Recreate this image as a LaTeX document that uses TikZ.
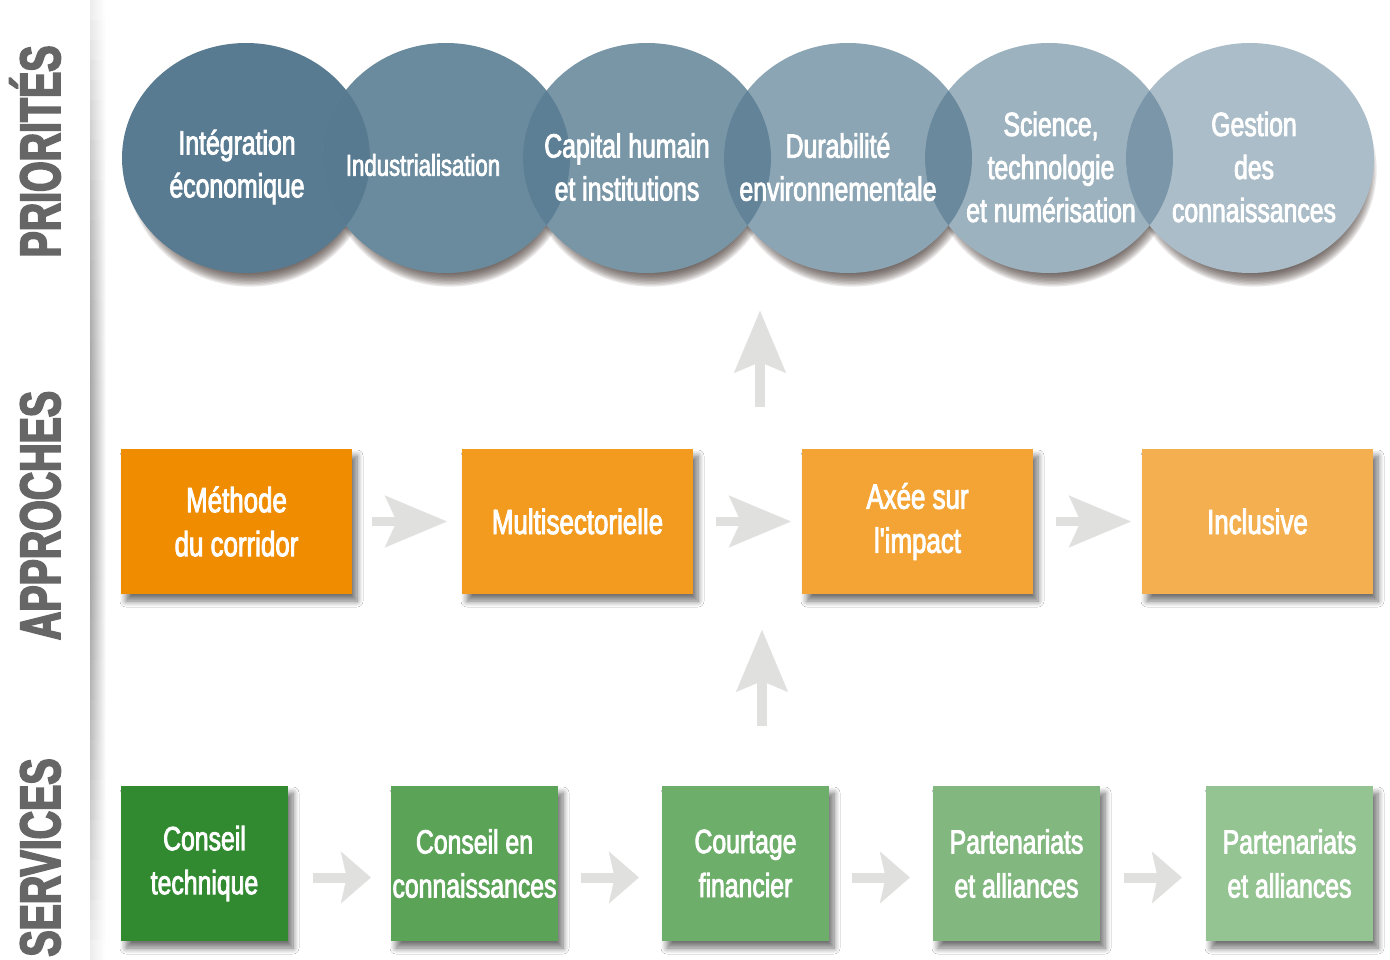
\documentclass[tikz,border=0pt]{standalone}
\usepackage{fontspec}
\newfontfamily\txtfont[FakeStretch=0.74, FakeBold=2.5]{Liberation Sans}
\newfontfamily\lblfont[FakeStretch=0.69, FakeBold=3]{Liberation Sans Bold}
\usetikzlibrary{shapes.geometric,arrows.meta,shadows.blur}
\definecolor{c1}{HTML}{587B91}
\definecolor{c2}{HTML}{6A8B9D}
\definecolor{c3}{HTML}{7996A7}
\definecolor{c4}{HTML}{8BA5B4}
\definecolor{c5}{HTML}{9DB2BF}
\definecolor{c6}{HTML}{ABBDC8}
\definecolor{l1}{HTML}{587A90}
\definecolor{l2}{HTML}{5D7F95}
\definecolor{l3}{HTML}{628398}
\definecolor{l4}{HTML}{6A899D}
\definecolor{l5}{HTML}{7B96A8}
\definecolor{o1}{HTML}{EF8C00}
\definecolor{o2}{HTML}{F29B1F}
\definecolor{o3}{HTML}{F4A435}
\definecolor{o4}{HTML}{F4B050}
\definecolor{g1}{HTML}{318A30}
\definecolor{g2}{HTML}{5BA357}
\definecolor{g3}{HTML}{6DAE6A}
\definecolor{g4}{HTML}{82B87F}
\definecolor{g5}{HTML}{95C493}
\definecolor{arrowgray}{HTML}{E0E0DF}
\definecolor{lblgray}{HTML}{666666}
\definecolor{shadowbrown}{HTML}{3E302B}
\begin{document}
\begin{tikzpicture}[x=1pt,y=-1pt,
  circ/.style={ellipse, minimum width=248pt, minimum height=230pt, inner sep=0pt},
  ctext/.style={text=white, align=center, inner sep=0pt, font=\txtfont\fontsize{33.5}{43}\selectfont},
  abox/.style={rectangle, minimum width=231pt, minimum height=145pt, inner sep=0pt, text=white, align=center, font=\txtfont\fontsize{35}{44}\selectfont},
  sbox/.style={rectangle, minimum width=167pt, minimum height=155pt, inner sep=0pt, text=white, align=center, font=\txtfont\fontsize{33.5}{44}\selectfont},
  boxshadow/.style={blur shadow={shadow xshift=5pt, shadow yshift=-7pt, shadow blur radius=6pt, shadow blur steps=8, shadow opacity=55}},
  lbl/.style={rotate=90, anchor=base, text=lblgray, inner sep=0pt, font=\lblfont\fontsize{57}{60}\selectfont},
  harrowA/.style={draw=arrowgray, line width=9pt, -{Stealth[length=62pt, width=52pt, inset=12pt, line width=0.1pt, fill=arrowgray]}},
  varrow/.style={draw=arrowgray, line width=10pt, -{Stealth[length=62pt, width=52pt, inset=11pt, line width=0.1pt, fill=arrowgray]}},
  harrowS/.style={draw=arrowgray, line width=10pt, -{Stealth[length=30pt, width=52pt, inset=6pt, line width=0.1pt, fill=arrowgray]}}
]
\useasboundingbox (0,0) rectangle (1390,959);
\fill[white] (0,0) rectangle (1390,959);
% left shaded bar, darker in the middle
\foreach \k in {0,...,47}{
  \pgfmathsetmacro\barv{6+30*sin(180*(\k+0.5)/48)}
  \shade[left color=black!\barv, right color=white, draw=none] (90,{20*\k}) rectangle (106,{20*\k+20.5});
}

% side labels
\node[lbl] (lp) at (60,151.5) {PRIORITÉS};
\node[lbl] (la) at (60,515.5) {APPROCHES};
\node[lbl] (ls) at (60,857.5) {SERVICES};

% priority circles: centres, shadows, discs, overlaps, texts
\foreach \i/\x in {1/246,2/446,3/647,4/848,5/1049,6/1250}
  \coordinate (pc\i) at (\x,158);
\foreach \i in {1,...,6}
  \foreach \k in {0,...,9}
    \fill[shadowbrown, opacity=0.11] ([xshift=4pt,yshift=-12pt]pc\i) ellipse [x radius={110+1.4*\k}, y radius={104+1.4*\k}];
\foreach \i in {1,...,6}
  \node[circ, fill=c\i] (p\i) at (pc\i) {};
\foreach \i/\j in {1/2,2/3,3/4,4/5,5/6}{
  \begin{scope}
    \clip (p\i.center) ellipse [x radius=124, y radius=115];
    \fill[l\i] (p\j.center) ellipse [x radius=124, y radius=115];
  \end{scope}
}
\node[ctext] (t1) at (237,167) {Intégration\\économique};
\node[ctext, font=\txtfont\fontsize{30}{43}\selectfont] (t2) at (423,165) {Industrialisation};
\node[ctext] (t3) at (627,167) {Capital humain\\et institutions};
\node[ctext] (t4) at (838,167) {Durabilité\\environnementale};
\node[ctext] (t5) at (1051,167) {Science,\\technologie\\et numérisation};
\node[ctext] (t6) at (1254,167) {Gestion\\des\\connaissances};

% approaches
\node[abox, fill=o1, boxshadow] (a1) at (236.5,521.5) {Méthode\\du corridor};
\node[abox, fill=o2, boxshadow] (a2) at (577.5,521.5) {Multisectorielle};
\node[abox, fill=o3, boxshadow] (a3) at (917.5,521.5) {Axée sur\\l'impact};
\node[abox, fill=o4, boxshadow] (a4) at (1257.5,521.5) {Inclusive};
\draw[harrowA] ([xshift=20pt]a1.east) -- ([xshift=-15pt]a2.west);
\draw[harrowA] ([xshift=23pt]a2.east) -- ([xshift=-11pt]a3.west);
\draw[harrowA] ([xshift=23pt]a3.east) -- ([xshift=-11pt]a4.west);

% services
\node[sbox, fill=g1, boxshadow] (s1) at (204.5,863.5) {Conseil\\technique};
\node[sbox, fill=g2, boxshadow] (s2) at (474.5,863.5) {Conseil en\\connaissances};
\node[sbox, fill=g3, boxshadow] (s3) at (745.5,863.5) {Courtage\\financier};
\node[sbox, fill=g4, boxshadow] (s4) at (1016.5,863.5) {Partenariats\\et alliances};
\node[sbox, fill=g5, boxshadow] (s5) at (1289.5,863.5) {Partenariats\\et alliances};
\draw[harrowS] ([xshift=25pt,yshift=-14pt]s1.east) -- ([xshift=-20pt,yshift=-14pt]s2.west);
\draw[harrowS] ([xshift=23pt,yshift=-14pt]s2.east) -- ([xshift=-23pt,yshift=-14pt]s3.west);
\draw[harrowS] ([xshift=23pt,yshift=-14pt]s3.east) -- ([xshift=-23pt,yshift=-14pt]s4.west);
\draw[harrowS] ([xshift=24pt,yshift=-14pt]s4.east) -- ([xshift=-24pt,yshift=-14pt]s5.west);

% vertical arrows
\coordinate (v1s) at (760,407);
\coordinate (v1e) at (760,311);
\coordinate (v2s) at (762,726);
\coordinate (v2e) at (762,630);
\draw[varrow] (v1s) -- (v1e);
\draw[varrow] (v2s) -- (v2e);
\end{tikzpicture}
\end{document}
